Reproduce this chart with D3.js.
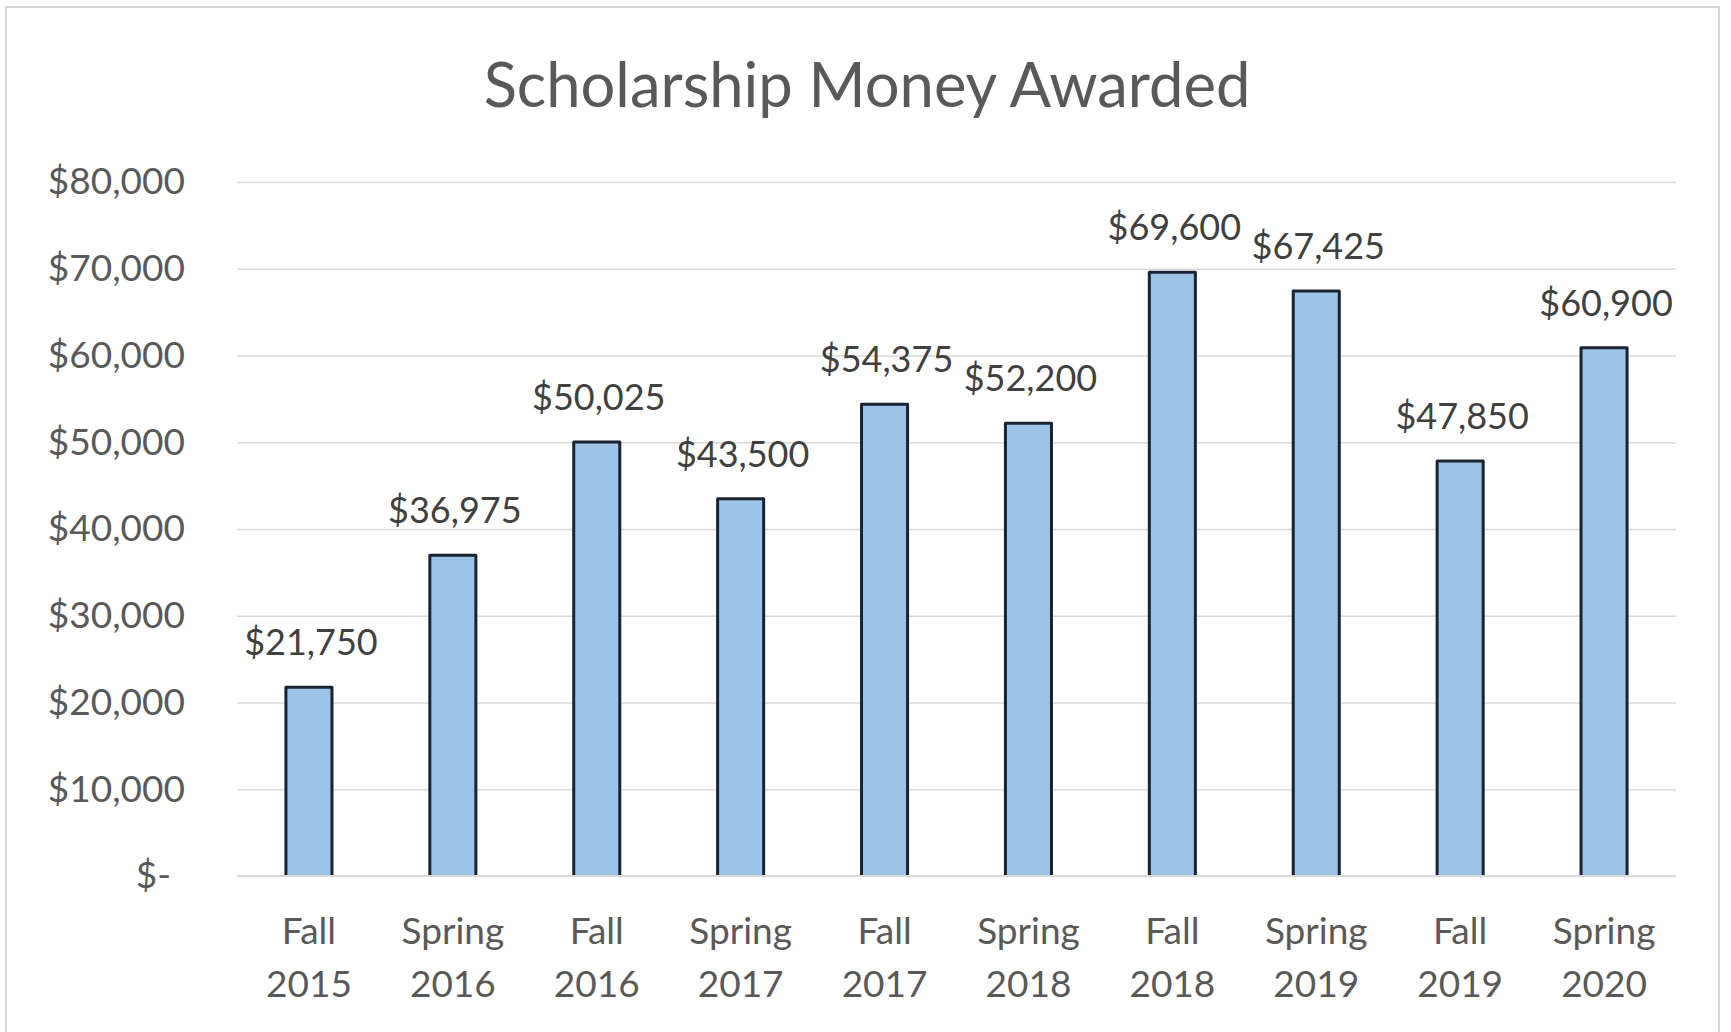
<!DOCTYPE html>
<html>
<head>
<meta charset="utf-8">
<script src="https://cdn.jsdelivr.net/npm/d3@7"></script>
<style>
    body { margin: 0; background: #ffffff; }
    svg text { font-family: Lato, "Open Sans", sans-serif; }
</style>
</head>
<body>
<div id="scholarship-chart"></div>
<script>

// semesters on the x axis
const semesters = ["Fall 2015", "Spring 2016", "Fall 2016", "Spring 2017", "Fall 2017",
    "Spring 2018", "Fall 2018", "Spring 2019", "Fall 2019", "Spring 2020"];

// scholarship money awarded per semester
const awarded = [21750, 36975, 50025, 43500, 54375, 52200, 69600, 67425, 47850, 60900];

// y axis ticks
const yTicks = [0, 10000, 20000, 30000, 40000, 50000, 60000, 70000, 80000];

class BarChart {

    constructor() {
        this.initVis();
    }

    initVis() {
        let vis = this;

        vis.width = 1731;
        vis.height = 1032;
        vis.margin = {left: 237, right: 55, top: 182, bottom: 156};

        vis.svg = d3.select("#scholarship-chart")
            .append("svg")
            .attr("width", vis.width)
            .attr("height", vis.height);

        // light grey chart border
        vis.svg.append("rect")
            .attr("x", 6)
            .attr("y", 7)
            .attr("width", 1713)
            .attr("height", 1100)
            .attr("fill", "#ffffff")
            .attr("stroke", "#d9d9d9")
            .attr("stroke-width", 2);

        vis.x = d3.scaleBand()
            .domain(semesters)
            .range([vis.margin.left, vis.width - vis.margin.right])
            .paddingInner(0.68)
            .paddingOuter(0.34);

        vis.y = d3.scaleLinear()
            .domain([0, 80000])
            .range([vis.height - vis.margin.bottom, vis.margin.top]);

        vis.createBarChart();
    }

    createBarChart() {
        let vis = this;
        let plotWidth = vis.width - vis.margin.left - vis.margin.right;
        let fmt = d3.format("$,");

        // y axis with gridlines
        let yAxis = d3.axisLeft(vis.y)
            .tickValues(yTicks)
            .tickSize(-plotWidth)
            .tickPadding(52)
            .tickFormat(d => d === 0 ? "$-" : fmt(d));

        let yg = vis.svg.append("g")
            .attr("class", "y-axis")
            .attr("transform", `translate(${vis.margin.left}, 0)`)
            .call(yAxis);

        yg.select(".domain").remove();
        yg.selectAll(".tick line")
            .attr("stroke", "#d9d9d9")
            .attr("stroke-width", 1.5);
        yg.selectAll(".tick text")
            .attr("fill", "#595959")
            .attr("font-size", "37px")
            .attr("dx", d => d === 0 ? -14 : 0);

        // bars
        let data = semesters.map((s, i) => ({semester: s, value: awarded[i]}));

        vis.svg.selectAll(".bar")
            .data(data)
            .enter()
            .append("rect")
            .attr("class", "bar")
            .attr("x", d => vis.x(d.semester))
            .attr("y", d => vis.y(d.value))
            .attr("width", vis.x.bandwidth())
            .attr("height", d => vis.y(0) - vis.y(d.value))
            .attr("fill", "#9dc3e6");

        // dark outline on top and sides only
        vis.svg.selectAll(".bar-outline")
            .data(data)
            .enter()
            .append("path")
            .attr("class", "bar-outline")
            .attr("d", d => {
                let x0 = vis.x(d.semester), x1 = x0 + vis.x.bandwidth();
                return `M${x0},${vis.y(0)} V${vis.y(d.value)} H${x1} V${vis.y(0)}`;
            })
            .attr("fill", "none")
            .attr("stroke", "#1b2230")
            .attr("stroke-width", 3)
            .attr("stroke-linejoin", "round");

        // baseline over the bars
        vis.svg.append("line")
            .attr("x1", vis.margin.left)
            .attr("x2", vis.width - vis.margin.right)
            .attr("y1", vis.y(0))
            .attr("y2", vis.y(0))
            .attr("stroke", "#d9d9d9")
            .attr("stroke-width", 2);

        // value labels
        vis.svg.selectAll(".value-label")
            .data(data)
            .enter()
            .append("text")
            .attr("class", "value-label")
            .attr("x", d => vis.x(d.semester) + vis.x.bandwidth() / 2 + 2)
            .attr("y", d => vis.y(d.value) - 32)
            .attr("text-anchor", "middle")
            .attr("font-size", "36px")
            .attr("fill", "#404040")
            .text(d => fmt(d.value));

        // x axis, two line labels
        let xAxis = d3.axisBottom(vis.x).tickSize(0).tickFormat("");

        let xg = vis.svg.append("g")
            .attr("class", "x-axis")
            .attr("transform", `translate(0, ${vis.y(0)})`)
            .call(xAxis);

        xg.select(".domain").remove();
        xg.selectAll(".tick text").remove();

        let labels = xg.selectAll(".tick")
            .append("text")
            .attr("text-anchor", "middle")
            .attr("font-size", "37px")
            .attr("fill", "#595959");

        labels.append("tspan")
            .attr("x", 0)
            .attr("y", 68)
            .text(d => d.split(" ")[0]);

        labels.append("tspan")
            .attr("x", 0)
            .attr("y", 121)
            .text(d => d.split(" ")[1]);

        // add title
        vis.svg.append("text")
            .attr("x", 867)
            .attr("y", 107)
            .attr("text-anchor", "middle")
            .attr("font-size", "61.5px")
            .attr("fill", "#595959")
            .text("Scholarship Money Awarded");
    }
}

new BarChart();
</script>
</body>
</html>
